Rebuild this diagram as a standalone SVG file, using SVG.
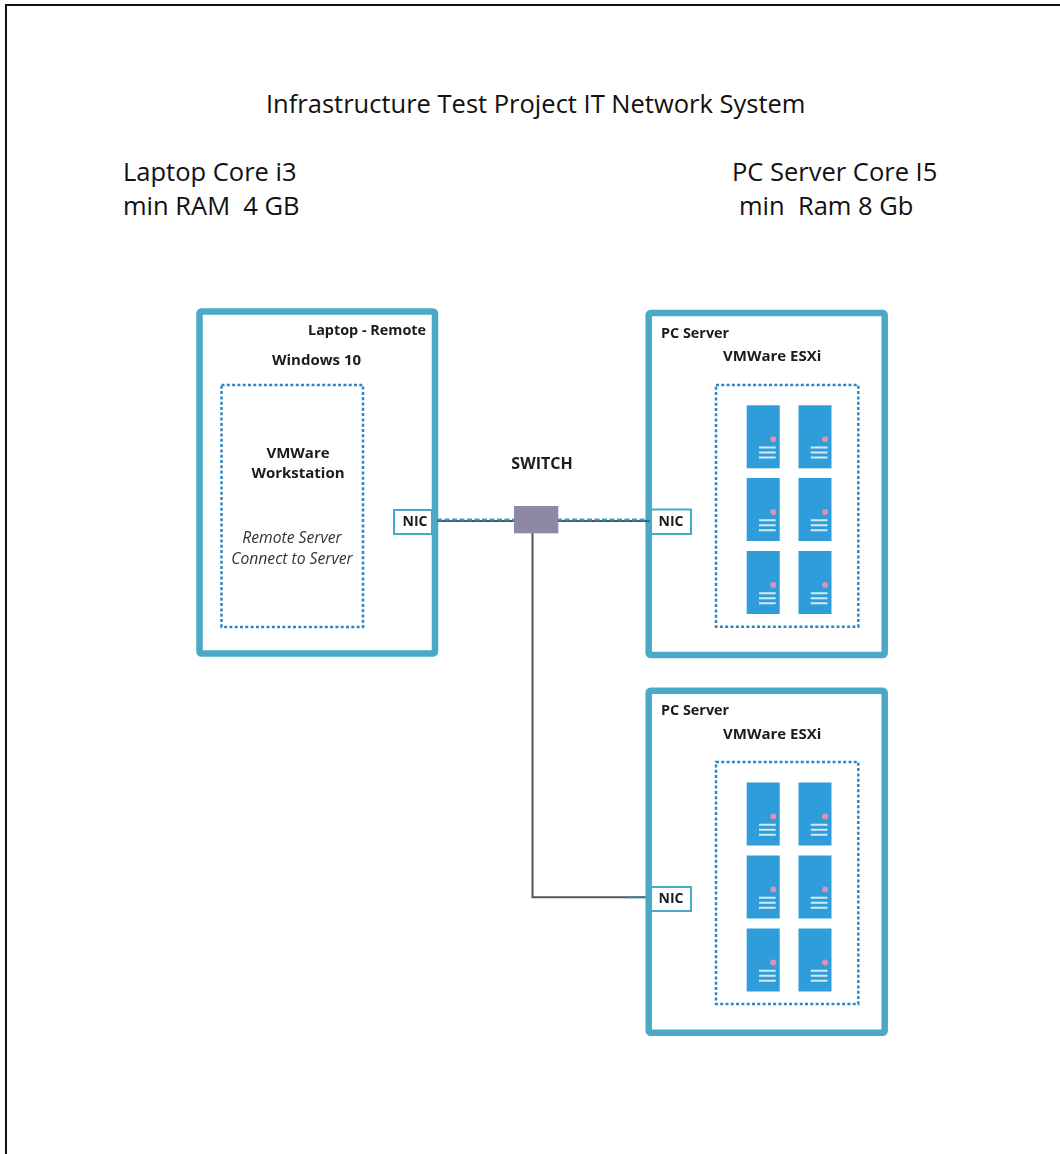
<svg xmlns="http://www.w3.org/2000/svg" xmlns:xlink="http://www.w3.org/1999/xlink" width="1060" height="1154" viewBox="0 0 1060 1154">
<style>
.cal{font-family:"Open Sans","Liberation Sans",sans-serif;fill:#111}
.t{font-size:25.5px;white-space:pre}
.b{font-size:14.4px;font-weight:700;fill:#1a1a1a}
.b2{font-size:15px}
.i{font-size:15.7px;font-style:italic;fill:#333}
.box{fill:#fff;stroke:#4aa9c6;stroke-width:6.500;stroke-linejoin:round}
.dot{fill:none;stroke:#2f86c6;stroke-width:2.500;stroke-dasharray:3 2.300}
.nic{fill:#fff;stroke:#4aa9c6;stroke-width:2}
.line{fill:none;stroke:#555;stroke-width:2}
.dash{fill:none;stroke:#2ea6dc;stroke-width:2;stroke-dasharray:5 2.500}
</style>
<defs>
<filter id="soft" x="-5%" y="-5%" width="110%" height="110%"><feGaussianBlur stdDeviation="0.45"/></filter>
<g id="srv">
<rect width="33" height="63" fill="#2e9dd9"/>
<circle cx="26.600" cy="34" r="3" fill="#e48fb0"/>
<path d="M12.300 42.300H29M12.300 47.300H29M12.300 52.300H29" stroke="#d5e9f5" stroke-width="2"/>
</g>
</defs>
<rect x="6" y="5" width="1060" height="1160" fill="#fff" stroke="#111" stroke-width="2"/>
<g id="title">
<text class="cal t" x="266" y="113">Infrastructure Test Project IT Network System</text>
<text class="cal t" x="123" y="181">Laptop Core i3</text>
<text class="cal t" x="123" y="215">min RAM  4 GB</text>
<text class="cal t" x="732" y="181">PC Server Core I5</text>
<text class="cal t" x="739" y="215">min  Ram 8 Gb</text>
</g>
<g id="laptop" filter="url(#soft)">
<rect class="box" x="199.500" y="311.500" width="235.500" height="342" rx="2"/>
<text class="cal b" x="308" y="335">Laptop - Remote</text>
<text class="cal b b2" x="272" y="365">Windows 10</text>
<rect class="dot" x="221.500" y="385" width="141.500" height="242"/>
<text class="cal b b2" x="298" y="458" text-anchor="middle">VMWare</text>
<text class="cal b b2" x="298" y="478" text-anchor="middle">Workstation</text>
<text class="cal i" x="292" y="543" text-anchor="middle">Remote Server</text>
<text class="cal i" x="292" y="564" text-anchor="middle">Connect to Server</text>
<rect class="nic" x="394" y="510" width="38" height="24"/>
<text class="cal b" x="415" y="526" text-anchor="middle" style="font-size:14px">NIC</text>
</g>
<g id="server1" filter="url(#soft)">
<rect class="box" x="648.700" y="313" width="236" height="342" rx="2"/>
<text class="cal b" x="661" y="338">PC Server</text>
<text class="cal b b2" x="723" y="361">VMWare ESXi</text>
<rect class="dot" x="716" y="385" width="142.300" height="241.700"/>
<use xlink:href="#srv" x="746.700" y="405.300"/><use xlink:href="#srv" x="798.500" y="405.300"/>
<use xlink:href="#srv" x="746.700" y="478"/><use xlink:href="#srv" x="798.500" y="478"/>
<use xlink:href="#srv" x="746.700" y="551"/><use xlink:href="#srv" x="798.500" y="551"/>
<rect class="nic" x="651" y="509.500" width="40" height="24.500"/>
<text class="cal b" x="671" y="526" text-anchor="middle" style="font-size:14px">NIC</text>
</g>
<g id="server2" filter="url(#soft)">
<rect class="box" x="648.700" y="690.700" width="236" height="342" rx="2"/>
<text class="cal b" x="661" y="715">PC Server</text>
<text class="cal b b2" x="723" y="739">VMWare ESXi</text>
<rect class="dot" x="716" y="762" width="142.300" height="242"/>
<use xlink:href="#srv" x="746.700" y="782.500"/><use xlink:href="#srv" x="798.500" y="782.500"/>
<use xlink:href="#srv" x="746.700" y="855.500"/><use xlink:href="#srv" x="798.500" y="855.500"/>
<use xlink:href="#srv" x="746.700" y="928.500"/><use xlink:href="#srv" x="798.500" y="928.500"/>
<rect class="nic" x="651" y="887" width="40" height="24"/>
<text class="cal b" x="671" y="903" text-anchor="middle" style="font-size:14px">NIC</text>
</g>
<g id="connectors" filter="url(#soft)">
<path class="line" d="M437 521H650"/>
<path class="dash" d="M437 519.500H650"/>
<path class="line" d="M532.500 530V897.300H645"/>
<path class="dash" style="stroke:#3a8ab5" d="M628 897.300H646"/>
</g>
<g id="switch" filter="url(#soft)">
<rect x="514" y="506" width="44.300" height="27.300" fill="#8d88a3"/>
<text class="cal b" x="542" y="469" text-anchor="middle" style="font-size:16px">SWITCH</text>
</g>
</svg>
